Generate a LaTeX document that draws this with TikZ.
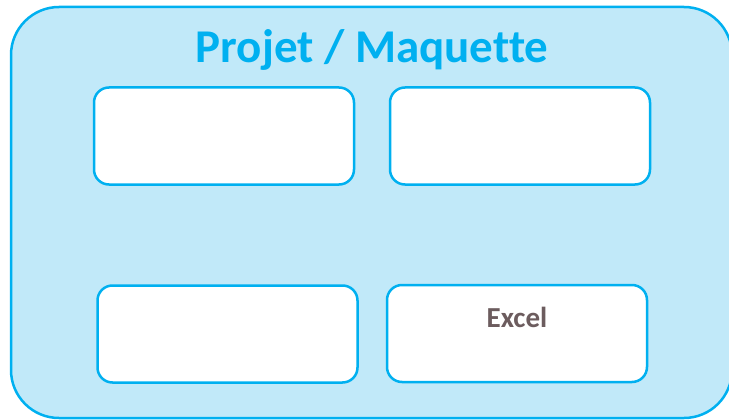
\documentclass[tikz,border=0pt]{standalone}
\usepackage{fontspec}
\setmainfont{Carlito}[RawFeature=-liga]
\usetikzlibrary{positioning,calc}

\definecolor{cyanline}{RGB}{0,176,240}
\definecolor{cyanfill}{RGB}{193,233,249}
\definecolor{greytext}{RGB}{108,92,94}

\begin{document}
\begin{tikzpicture}[
  x=1pt, y=-1pt,
  outer/.style={draw=cyanline, fill=cyanfill, line width=2.5pt, rounded corners=48pt},
  box/.style={draw=cyanline, fill=white, line width=2.5pt, rounded corners=15pt,
    minimum width=260pt, minimum height=97pt, inner sep=0pt},
  title/.style={font=\bfseries\fontsize{47}{50}\selectfont, text=cyanline, inner sep=0pt},
  lab/.style={font=\bfseries\fontsize{29}{32}\selectfont, text=greytext, inner sep=0pt}
]
\useasboundingbox (0,0) rectangle (729,420);

\draw[outer] (11,7) rectangle (732,418);

\node[title, anchor=base] (titre) at (372,63) {Projet / Maquette};

\node[box] (hautG) at (224,136) {};
\node[box] (hautD) at (520,136) {};
\node[box] (basG) at (227.5,334) {};
\node[box] (excel) at (517,333.5) {};

\node[lab, anchor=base] (excelLab) at (517,327) {Excel};
\end{tikzpicture}
\end{document}
